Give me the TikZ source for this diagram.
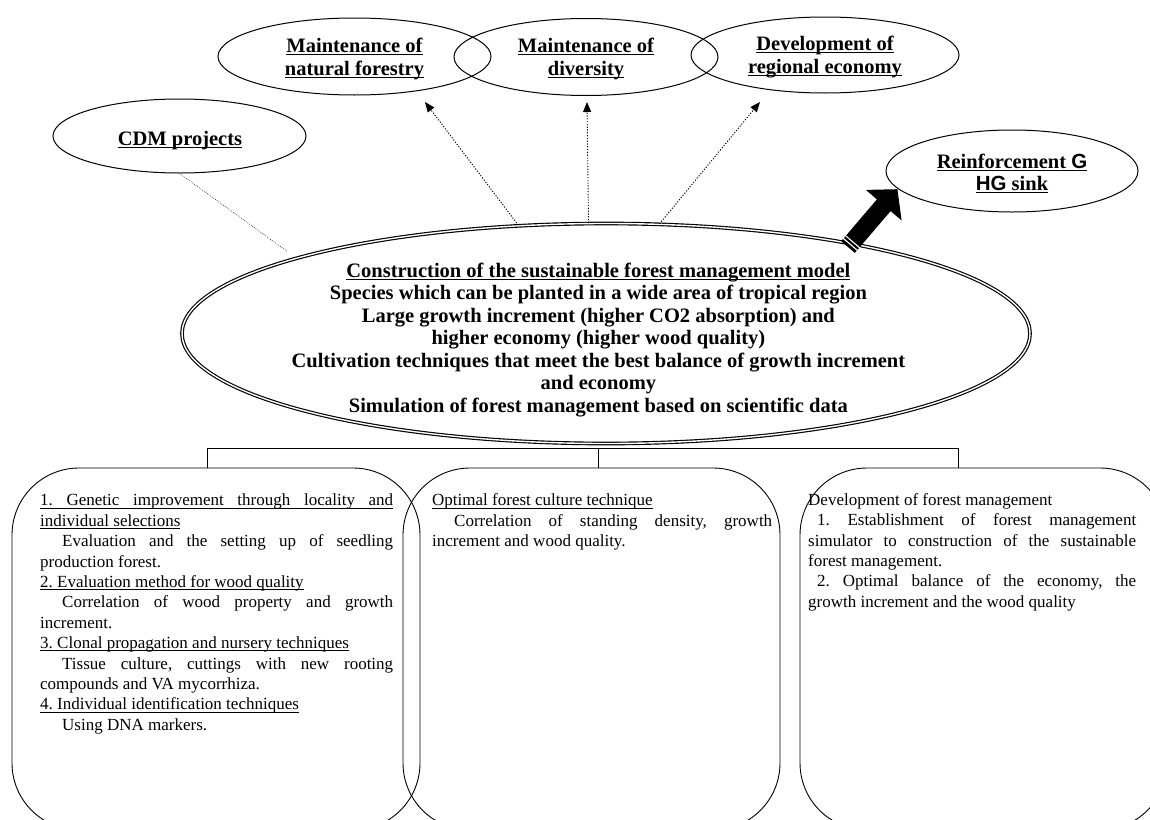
\documentclass[tikz,border=0pt]{standalone}
\usepackage{fontspec}
\setmainfont{Liberation Serif}
\setsansfont{Liberation Sans}
\usetikzlibrary{shapes.geometric,arrows.meta}
\newsavebox\myulbox
\newcommand{\myul}[1]{\sbox\myulbox{#1}\rlap{\rule[-2.6pt]{\wd\myulbox}{0.9pt}}\usebox\myulbox}
\frenchspacing
\begin{document}
\frenchspacing
\begin{tikzpicture}[x=1pt,y=-1pt,
  ell/.style={draw, line width=1pt, ellipse, inner sep=0pt},
  lbl/.style={inner sep=0pt, anchor=north, align=center, font=\bfseries\fontsize{20.5}{23.5}\selectfont},
  body/.style={inner sep=0pt, anchor=north west, align=left, font=\fontsize{17}{20.4}\selectfont},
  roundbox/.style={draw, line width=0.9pt, rounded corners=67pt, inner sep=0pt},
  darr/.style={line width=0.9pt, dash pattern=on 1.2pt off 1.6pt, -{Triangle[length=10pt,width=8pt]}},
  cdmline/.style={line width=0.6pt, dash pattern=on 0.8pt off 1.2pt, black!80}]
\useasboundingbox (0,0) rectangle (1150,819);
\fill[white] (0,0) rectangle (1150,819);
\clip (0,0) rectangle (1150,819);

% top ellipses
\node[ell, minimum width=273pt, minimum height=77pt] (e1) at (354.5,56.5) {};
\node[ell, minimum width=264pt, minimum height=77pt] (e2) at (586,57) {};
\node[ell, minimum width=268pt, minimum height=76pt] (e3) at (825,55) {};
\node[ell, minimum width=253pt, minimum height=74pt] (cdm) at (179.5,136) {};
\node[ell, minimum width=252pt, minimum height=82pt] (rein) at (1012,171) {};
\node[draw, double, double distance=1.4pt, line width=1.15pt, ellipse, inner sep=0pt,
      minimum width=848pt, minimum height=220pt] (cent) at (606,333.5) {};

\node[lbl] (e1t) at (354.5,36) {\rule{0pt}{16pt}\myul{Maintenance of}\\\myul{natural forestry}};
\node[lbl] (e2t) at (586,36) {\rule{0pt}{16pt}\myul{Maintenance of}\\\myul{diversity}};
\node[lbl] (e3t) at (825,34) {\rule{0pt}{16pt}\myul{Development of}\\\myul{regional economy}};
\node[lbl] (cdmt) at (180,129) {\rule{0pt}{16pt}\myul{CDM projects}};
\node[lbl, font=\bfseries\fontsize{20.5}{22}\selectfont] (reint) at (1012,152)
  {\rule{0pt}{16pt}\myul{Reinforcement \textsf{G}}\\\myul{\textsf{HG} sink}};

\node[lbl, font=\bfseries\fontsize{20.5}{22.5}\selectfont] (ct) at (598.4,261)
  {\rule{0pt}{16pt}\myul{Construction of the sustainable forest management model}\\
   Species which can be planted in a wide area of tropical region\\
   Large growth increment (higher CO2 absorption) and\\
   higher economy (higher wood quality)\\
   Cultivation techniques that meet the best balance of growth increment\\
   and economy\\
   Simulation of forest management based on scientific data};

% connectors
\coordinate (t1) at (425,102);
\coordinate (t2) at (587,102);
\coordinate (t3) at (760,102);
\draw[darr] (cent.129) -- (t1);
\draw[darr] (cent.99) -- (t2);
\draw[darr] (cent.64) -- (t3);
\coordinate (c1) at (288,252);
\draw[cdmline] (cdm.south) -- (c1);

% thick arrow to GHG sink
\fill[black] (841.2,241.2) -- (876.9,199.4) -- (865.9,189.9) -- (897.4,189.2)
   -- (901.6,220.5) -- (890.6,211.1) -- (854.8,252.9) -- cycle;
\draw[white, line width=1.1pt] (843.1,238.2) -- (857.5,250.5);
\draw[white, line width=1.1pt] (845.3,235.5) -- (859.8,247.9);

% bracket
\coordinate (j1) at (207,468);
\coordinate (j2) at (598,468);
\coordinate (j3) at (958,468);
\coordinate (h1) at (207,448);
\coordinate (h2) at (598,448);
\coordinate (h3) at (958,448);
\draw[line width=0.9pt] (j1) -- (h1) -- (h3) -- (j3);
\draw[line width=0.9pt] (h2) -- (j2);

% boxes
\node[roundbox, minimum width=408pt, minimum height=362pt] (b1) at (216,649) {};
\node[roundbox, minimum width=377pt, minimum height=362pt] (b2) at (591.5,649) {};
\node[roundbox, minimum width=367pt, minimum height=362pt] (b3) at (983.5,649) {};

\node[body] (b1t) at (40,491.7) {\rule{0pt}{14pt}\myul{\makebox[353pt][s]{1. Genetic improvement through locality and}}\\
\myul{individual selections}\\
\hspace*{22pt}\makebox[331pt][s]{Evaluation and the setting up of seedling}\\
production forest.\\
\myul{2. Evaluation method for wood quality}\\
\hspace*{22pt}\makebox[331pt][s]{Correlation of wood property and growth}\\
increment.\\
\myul{3. Clonal propagation and nursery techniques}\\
\hspace*{22pt}\makebox[331pt][s]{Tissue culture, cuttings with new rooting}\\
compounds and VA mycorrhiza.\\
\myul{4. Individual identification techniques}\\
\hspace*{22pt}Using DNA markers.};

\node[body] (b2t) at (432,491.7) {\rule{0pt}{14pt}\myul{Optimal forest culture technique}\\
\hspace*{22pt}\makebox[318pt][s]{Correlation of standing density, growth}\\
increment and wood quality.};

\node[body] (b3t) at (808,491) {\rule{0pt}{14pt}Development of forest management\\
\hspace*{9pt}\makebox[319pt][s]{1. Establishment of forest management}\\
\makebox[328pt][s]{simulator to construction of the sustainable}\\
forest management.\\
\hspace*{9pt}\makebox[319pt][s]{2. Optimal balance of the economy, the}\\
growth increment and the wood quality};
\end{tikzpicture}
\end{document}
